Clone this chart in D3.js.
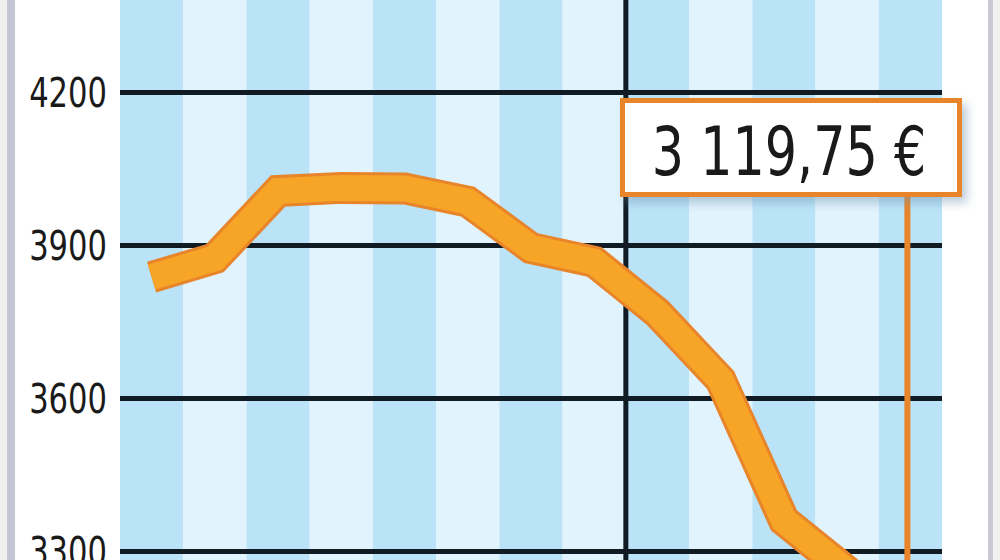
<!DOCTYPE html>
<html>
<head>
<meta charset="utf-8">
<script src="https://cdn.jsdelivr.net/npm/d3@7"></script>
<style>
  html, body { margin: 0; padding: 0; background: #ffffff; }
  svg { display: block; }
</style>
</head>
<body>
<svg id="chart" width="1000" height="560"></svg>
<script>
// ---- data ----
const periods = ["1","2","3","4","5","6","7","8","9","10","11","12","13"];
const values  = [3837, 3874, 4006, 4012, 4011, 3985, 3894, 3867, 3767, 3635, 3360, 3260, 3119.75];
const yTicks  = [3300, 3600, 3900, 4200];
const yearBreak = "9";
const lastLabel = "3 119,75 €";

// ---- layout ----
const W = 1000, H = 560;
const plot = { left: 120, right: 942, top: 0, bottom: 560 };
const FONT = "'DejaVu Sans Condensed', 'Liberation Sans Narrow', sans-serif";
const SX = 0.83; // horizontal squeeze to mimic the condensed typeface

const svg = d3.select("#chart");

const x = d3.scaleBand().domain(periods).range([plot.left, plot.right]).padding(0);
const y = d3.scaleLinear().domain([3300, 4200]).range([551, 92]);

const defs = svg.append("defs");
const f = defs.append("filter").attr("id", "shadow")
  .attr("x", "-10%").attr("y", "-20%").attr("width", "130%").attr("height", "160%");
f.append("feDropShadow").attr("dx", 5).attr("dy", 6).attr("stdDeviation", 5)
  .attr("flood-color", "#6f93ad").attr("flood-opacity", 0.45);

// page frame
svg.append("rect").attr("x", 0).attr("y", 0).attr("width", W).attr("height", H).attr("fill", "#ffffff");
svg.append("rect").attr("x", 0).attr("y", 0).attr("width", 7).attr("height", H).attr("fill", "#efefec");
svg.append("rect").attr("x", 7).attr("y", 0).attr("width", 8).attr("height", H).attr("fill", "#c5c5d5");
svg.append("rect").attr("x", 988).attr("y", 0).attr("width", 5).attr("height", H).attr("fill", "#cacad4");
svg.append("rect").attr("x", 993).attr("y", 0).attr("width", 7).attr("height", H).attr("fill", "#f0f0ef");

// stripes
svg.append("g").selectAll("rect").data(periods).join("rect")
  .attr("x", d => x(d))
  .attr("y", plot.top)
  .attr("width", x.bandwidth())
  .attr("height", plot.bottom - plot.top)
  .attr("fill", (d, i) => i % 2 === 0 ? "#bae3f7" : "#e1f3fc");

// gridlines + tick labels
const yAxis = d3.axisLeft(y).tickValues(yTicks)
  .tickSize(-(plot.right - plot.left)).tickPadding(12).tickFormat(d3.format("d"));
const gAxis = svg.append("g").attr("transform", `translate(${plot.left},0)`).call(yAxis);
gAxis.select(".domain").remove();
gAxis.selectAll(".tick line").attr("stroke", "#111b24").attr("stroke-width", 5);
gAxis.selectAll(".tick text")
  .attr("font-family", FONT)
  .attr("font-size", 41).attr("fill", "#1a1a1a").attr("dy", "0.36em")
  .attr("x", -13 / SX)
  .attr("transform", `scale(${SX},1)`);

// year divider
svg.append("line")
  .attr("x1", x(yearBreak)).attr("x2", x(yearBreak))
  .attr("y1", plot.top).attr("y2", plot.bottom)
  .attr("stroke", "#111b24").attr("stroke-width", 5);

// price line
const pts = periods.map((p, i) => ({ p, v: values[i] }));
const line = d3.line().x(d => x(d.p) + x.bandwidth() / 2).y(d => y(d.v));
svg.append("path").datum(pts).attr("d", line)
  .attr("fill", "none").attr("stroke", "#e8842a").attr("stroke-width", 32)
  .attr("stroke-linejoin", "miter").attr("stroke-miterlimit", 6).attr("stroke-linecap", "butt");
svg.append("path").datum(pts).attr("d", line)
  .attr("fill", "none").attr("stroke", "#f6a527").attr("stroke-width", 26)
  .attr("stroke-linejoin", "miter").attr("stroke-miterlimit", 6).attr("stroke-linecap", "butt");

// value label
const last = pts[pts.length - 1];
const lx = x(last.p) + x.bandwidth() / 2 - 3;
const box = { x: 622.5, y: 100.5, w: 337, h: 94 };
svg.append("line")
  .attr("x1", lx).attr("x2", lx).attr("y1", box.y + box.h).attr("y2", plot.bottom)
  .attr("stroke", "#e8842a").attr("stroke-width", 6);
svg.append("rect")
  .attr("x", box.x).attr("y", box.y).attr("width", box.w).attr("height", box.h)
  .attr("fill", "#ffffff").attr("stroke", "#e8852a").attr("stroke-width", 5)
  .attr("filter", "url(#shadow)");
svg.append("text")
  .attr("x", (box.x + box.w / 2 - 2) / SX).attr("y", 175)
  .attr("transform", `scale(${SX},1)`)
  .attr("text-anchor", "middle")
  .attr("font-family", FONT)
  .attr("font-size", 68).attr("fill", "#1a1a1a")
  .text(lastLabel);
</script>
</body>
</html>
